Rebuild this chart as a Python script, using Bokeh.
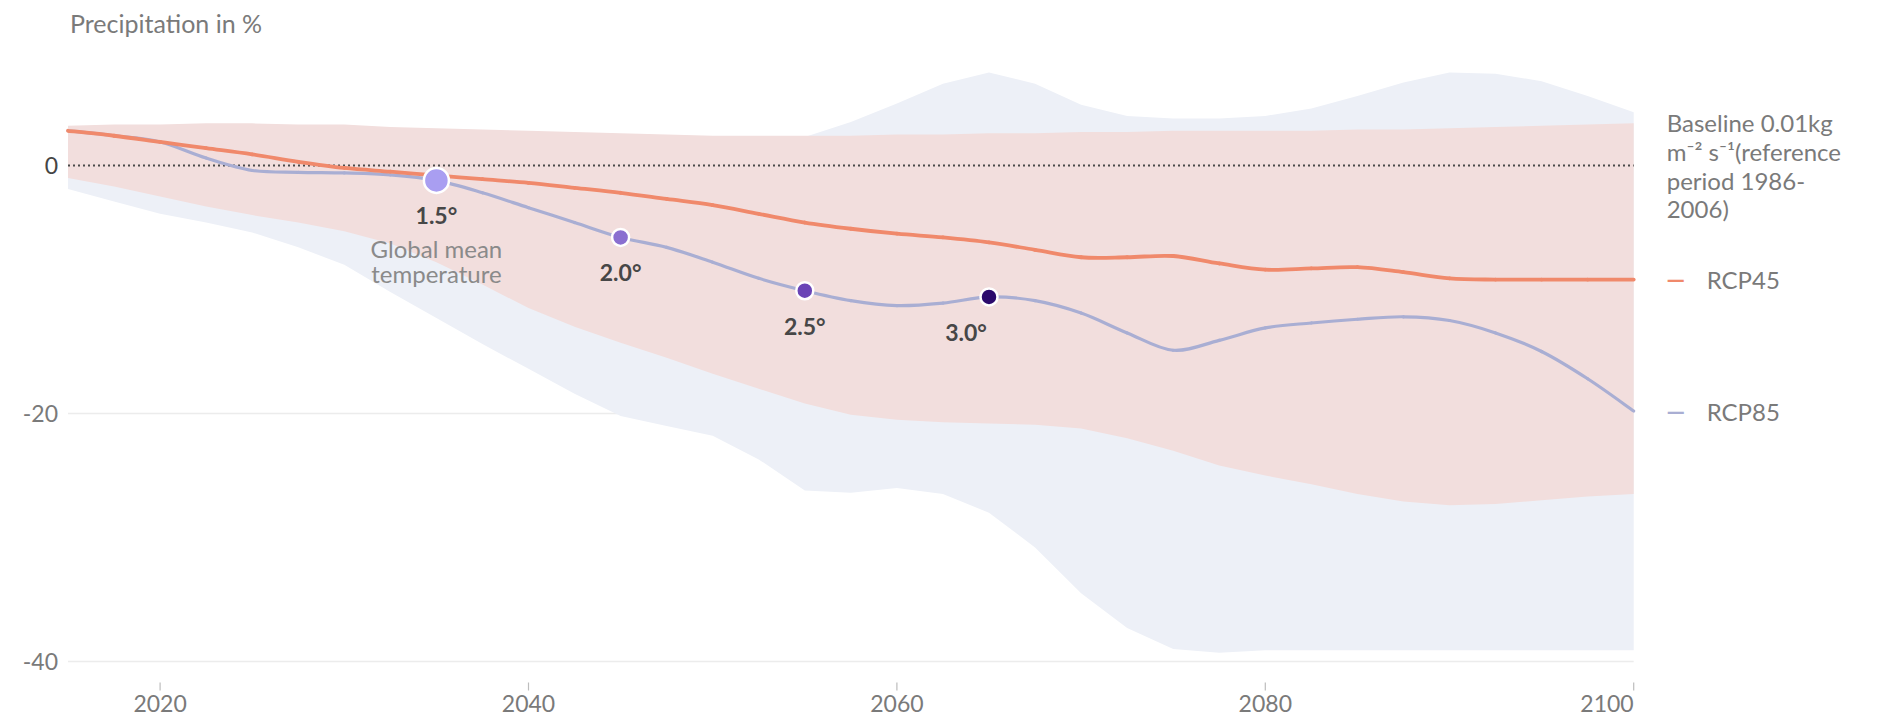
from bokeh.plotting import figure
from bokeh.models import Label, Range1d
from bokeh.embed import file_html
from bokeh.resources import INLINE

# ---- data -------------------------------------------------------------
years = [2015, 2017.5, 2020, 2022.5, 2025, 2027.5, 2030, 2032.5, 2035, 2037.5,
         2040, 2042.5, 2045, 2047.5, 2050, 2052.5, 2055, 2057.5, 2060, 2062.5,
         2065, 2067.5, 2070, 2072.5, 2075, 2077.5, 2080, 2082.5, 2085, 2087.5,
         2090, 2092.5, 2095, 2097.5, 2100]

# median change in precipitation, %
rcp45 = [2.8, 2.4, 1.9, 1.4, 0.9, 0.3, -0.2, -0.5, -0.8, -1.1,
         -1.4, -1.8, -2.2, -2.7, -3.2, -3.9, -4.6, -5.1, -5.5, -5.8,
         -6.2, -6.8, -7.4, -7.4, -7.3, -7.9, -8.4, -8.3, -8.2, -8.6,
         -9.1, -9.2, -9.2, -9.2, -9.2]
rcp85 = [2.8, 2.4, 1.9, 0.6, -0.4, -0.55, -0.6, -0.75, -1.2, -2.2,
         -3.4, -4.6, -5.8, -6.6, -7.8, -9.1, -10.1, -10.9, -11.3, -11.1,
         -10.6, -10.9, -11.9, -13.5, -14.9, -14.1, -13.1, -12.7, -12.4, -12.2,
         -12.5, -13.5, -15.0, -17.2, -19.8]

# model spread
rcp45_high = [3.2, 3.3, 3.3, 3.4, 3.4, 3.3, 3.3, 3.1, 3.0, 2.9,
              2.8, 2.7, 2.6, 2.5, 2.4, 2.4, 2.4, 2.4, 2.5, 2.5,
              2.6, 2.6, 2.7, 2.7, 2.8, 2.8, 2.8, 2.8, 2.9, 2.9,
              3.0, 3.1, 3.2, 3.3, 3.4]
rcp45_low = [-1.0, -1.7, -2.5, -3.3, -4.0, -4.6, -5.3, -6.3, -7.8, -9.6,
             -11.5, -13.0, -14.3, -15.5, -16.8, -18.0, -19.2, -20.1, -20.5, -20.7,
             -20.8, -20.9, -21.2, -22.0, -23.0, -24.2, -25.0, -25.7, -26.5, -27.1,
             -27.4, -27.3, -27.0, -26.7, -26.5]
rcp85_high = [3.0, 2.8, 2.6, 2.4, 2.2, 2.1, 2.0, 2.0, 2.0, 2.0,
              2.0, 2.0, 2.1, 2.1, 2.2, 2.1, 2.3, 3.5, 5.0, 6.6,
              7.5, 6.6, 4.9, 4.0, 3.8, 3.8, 4.0, 4.6, 5.6, 6.7,
              7.5, 7.4, 6.8, 5.6, 4.3]
rcp85_low = [-1.9, -2.9, -3.9, -4.6, -5.4, -6.6, -8.0, -10.2, -12.3, -14.4,
             -16.4, -18.4, -20.2, -21.0, -21.8, -23.7, -26.2, -26.4, -26.0, -26.5,
             -28.0, -30.8, -34.5, -37.3, -39.0, -39.3, -39.1, -39.1, -39.1, -39.1,
             -39.1, -39.1, -39.1, -39.1, -39.1]

# warming thresholds reached along the RCP8.5 path
warming_labels = ["1.5°", "2.0°", "2.5°", "3.0°"]
warming_years = [2035, 2045, 2055, 2065]
warming_values = [-1.2, -5.8, -10.1, -10.6]
warming_colors = ["#a99ef1", "#8a6fd0", "#6a44b6", "#2b0a6c"]
warming_sizes = [25, 17, 17, 17]

x_ticks = [2020, 2040, 2060, 2080, 2100]
y_ticks = [0, -20, -40]
y_tick_labels = ["0", "-20", "-40"]

# ---- layout constants (pixels) ----------------------------------------
W, H = 1894, 725
X_2015 = 67.5          # left edge of the series
PX_YEAR = 18.42        # pixels per year
Y_ZERO = 165.0         # pixel row of 0 %
PX_UNIT = 12.4         # pixels per percentage point

FONT = "Lato"
GREY = "#7a7a7a"
ORANGE = "#f0896b"
BLUE = "#a9aed3"

x0, x1 = min(years), max(years)
y_top = Y_ZERO / PX_UNIT
y_bottom = -(H - Y_ZERO) / PX_UNIT

p = figure(width=W, height=H,
           x_range=Range1d(x0 - X_2015 / PX_YEAR, x0 + (W - X_2015) / PX_YEAR),
           y_range=Range1d(y_bottom, y_top),
           min_border=0, output_backend="svg", toolbar_location=None)
p.outline_line_color = None
p.xaxis.visible = False
p.yaxis.visible = False
p.xgrid.visible = False
p.ygrid.visible = False

# horizontal grid below the bands
grid_vals = [v for v in y_ticks if v != 0]
p.segment(x0=[x0] * len(grid_vals), x1=[x1] * len(grid_vals),
          y0=grid_vals, y1=grid_vals, line_color="#ececec", line_width=1.5)

# spread bands
p.varea(x=years, y1=rcp85_low, y2=rcp85_high, fill_color="#edf0f7")
p.varea(x=years, y1=rcp45_low, y2=rcp45_high, fill_color="#f2dedd")

# baseline
p.segment(x0=[x0], x1=[x1], y0=[0], y1=[0], line_color="#4a4a4a",
          line_width=1.8, line_dash="2 3")


def smooth_segments(xs, ys):
    """Cubic Bezier pieces (Catmull-Rom tangents) through the given points."""
    n = len(xs)
    seg = dict(x0=[], y0=[], x1=[], y1=[], cx0=[], cy0=[], cx1=[], cy1=[])
    for i in range(n - 1):
        a, b = max(i - 1, 0), min(i + 2, n - 1)
        seg["x0"].append(xs[i]); seg["y0"].append(ys[i])
        seg["x1"].append(xs[i + 1]); seg["y1"].append(ys[i + 1])
        seg["cx0"].append(xs[i] + (xs[i + 1] - xs[a]) / 6)
        seg["cy0"].append(ys[i] + (ys[i + 1] - ys[a]) / 6)
        seg["cx1"].append(xs[i + 1] - (xs[b] - xs[i]) / 6)
        seg["cy1"].append(ys[i + 1] - (ys[b] - ys[i]) / 6)
    return seg


# medians
p.bezier(**smooth_segments(years, rcp85), line_color=BLUE, line_width=3.2,
         line_cap="round")
p.bezier(**smooth_segments(years, rcp45), line_color=ORANGE, line_width=3.8,
         line_cap="round")

# warming markers
p.scatter(x=warming_years, y=warming_values, size=warming_sizes,
          fill_color=warming_colors, line_color="white", line_width=2.5)
for lab, yr, val, dx in zip(warming_labels, warming_years, warming_values,
                            [0, 0, 0, -23]):
    p.add_layout(Label(x=yr, y=val, text=lab, x_offset=dx, y_offset=-35,
                       text_align="center", text_baseline="middle",
                       text_font=FONT, text_font_style="bold",
                       text_font_size="23px", text_color="#474747"))
for txt, dy in [("Global mean", -68), ("temperature", -93)]:
    p.add_layout(Label(x=warming_years[0], y=warming_values[0], text=txt,
                       y_offset=dy, text_align="center", text_baseline="middle",
                       text_font=FONT, text_font_size="24px", text_color="#8a8a8a"))

# title
p.add_layout(Label(x=x0, y=y_top, text="Precipitation in %", x_offset=2,
                   y_offset=-22, text_align="left", text_baseline="middle",
                   text_font=FONT, text_font_size="25px", text_color=GREY))

# y tick labels
for val, lab in zip(y_ticks, y_tick_labels):
    p.add_layout(Label(x=x0, y=val, text=lab, x_offset=-10, text_align="right",
                       text_baseline="middle", text_font=FONT,
                       text_font_size="23px",
                       text_color="#454545" if val == 0 else GREY))

# x ticks and tick labels under the lowest grid line
tick_top = y_top - 682 / PX_UNIT
tick_bot = y_top - 690 / PX_UNIT
p.segment(x0=x_ticks, x1=x_ticks, y0=[tick_top] * len(x_ticks),
          y1=[tick_bot] * len(x_ticks), line_color="#bdbdbd", line_width=1.2)
for yr in x_ticks:
    last = yr == x1
    p.add_layout(Label(x=yr, y=tick_bot, text=str(yr), y_offset=-13,
                       text_align="right" if last else "center",
                       text_baseline="middle", text_font=FONT,
                       text_font_size="23px", text_color=GREY))

# legend on the right
for txt, dy in [("Baseline 0.01kg", 43), ("m⁻² s⁻¹(reference", 14),
                ("period 1986-", -15), ("2006)", -43)]:
    p.add_layout(Label(x=x1, y=0, text=txt, x_offset=33, y_offset=dy,
                       text_align="left", text_baseline="middle",
                       text_font=FONT, text_font_size="24px", text_color=GREY))

for name, series, color in [("RCP45", rcp45, ORANGE), ("RCP85", rcp85, BLUE)]:
    p.add_layout(Label(x=x1, y=series[-1], text="—", x_offset=33,
                       text_align="left", text_baseline="middle",
                       text_font="DejaVu Sans", text_font_style="bold",
                       text_font_size="18px", text_color=color))
    p.add_layout(Label(x=x1, y=series[-1], text=name, x_offset=73,
                       text_align="left", text_baseline="middle",
                       text_font=FONT, text_font_size="24px", text_color=GREY))

open("out.html", "w").write(file_html(p, INLINE))
